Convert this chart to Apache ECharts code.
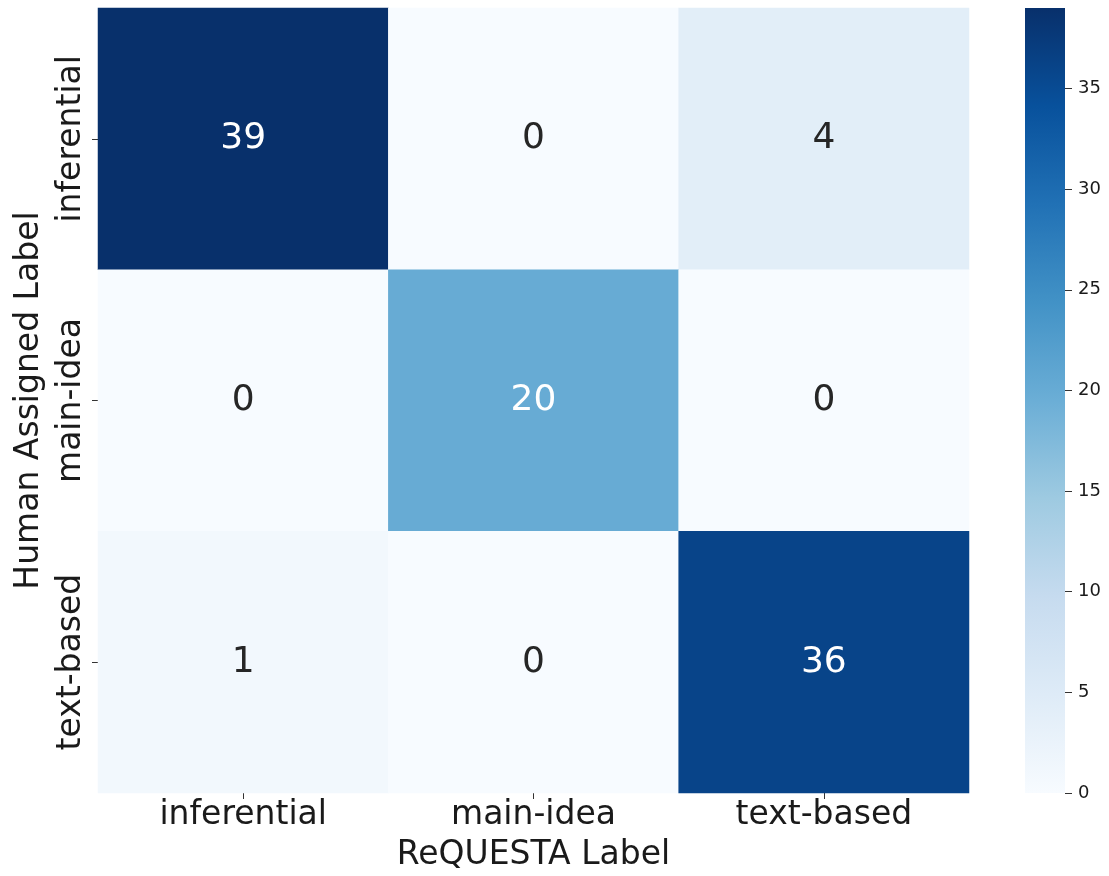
<!DOCTYPE html>
<html><head><meta charset="utf-8">
<script src="https://cdn.jsdelivr.net/npm/echarts@6/dist/echarts.min.js"></script>
<style>html,body{margin:0;padding:0;background:#fff}#c{width:1109px;height:876px}</style>
</head><body><div id="c"></div>
<script>
const xCategories = ['inferential', 'main-idea', 'text-based'];
const yCategories = ['inferential', 'main-idea', 'text-based'];
// rows = human assigned label, columns = ReQUESTA label
const rowInferential = [39, 0, 4];
const rowMainIdea = [0, 20, 0];
const rowTextBased = [1, 0, 36];
const colorbarTicks = [0, 5, 10, 15, 20, 25, 30, 35];
const vMin = 0, vMax = 39;
const blues = ['#f7fbff','#deebf7','#c6dbef','#9ecae1','#6baed6','#4292c6','#2171b5','#08519c','#08306b'];

const rows = [rowInferential, rowMainIdea, rowTextBased];
const data = [];
rows.forEach((r, yi) => r.forEach((v, xi) => {
  data.push({value: [xi, yi, v], label: {color: v > 15 ? '#ffffff' : '#262626'}});
}));

const FONT = '"DejaVu Sans", sans-serif';
const chart = echarts.init(document.getElementById('c'), null, {renderer: 'canvas'});
chart.setOption({
  animation: false,
  backgroundColor: '#ffffff',
  grid: [
    {left: 98, top: 8, width: 871, height: 785, containLabel: false, outerBoundsMode: 'none'},
    {left: 1025, top: 8, width: 40, height: 785, containLabel: false, outerBoundsMode: 'none'}
  ],
  xAxis: [
    {type: 'category', data: xCategories, gridIndex: 0, position: 'bottom',
     axisLine: {show: false}, splitArea: {show: false},
     axisTick: {show: true, alignWithLabel: true, length: 6, lineStyle: {color: '#333'}},
     axisLabel: {fontSize: 33, color: '#1a1a1a', fontFamily: FONT, margin: 6},
     name: 'ReQUESTA Label', nameLocation: 'middle', nameGap: 46,
     nameTextStyle: {fontSize: 33, color: '#1a1a1a', fontFamily: FONT}},
    {type: 'category', data: ['cb'], gridIndex: 1, show: false}
  ],
  yAxis: [
    {type: 'category', data: yCategories, gridIndex: 0, inverse: true,
     axisLine: {show: false},
     axisTick: {show: true, alignWithLabel: true, length: 6, lineStyle: {color: '#333'}},
     axisLabel: {fontSize: 33, color: '#1a1a1a', fontFamily: FONT, rotate: 90, margin: 10},
     name: 'Human Assigned Label', nameLocation: 'middle', nameGap: 52, nameRotate: 90,
     nameTextStyle: {fontSize: 33, color: '#1a1a1a', fontFamily: FONT}},
    {type: 'value', gridIndex: 1, min: vMin, max: vMax, position: 'right',
     axisLine: {show: false}, splitLine: {show: false},
     axisTick: {show: true, length: 7, lineStyle: {color: '#333'}, customValues: colorbarTicks},
     axisLabel: {fontSize: 18, color: '#1a1a1a', fontFamily: FONT, margin: 13,
       customValues: colorbarTicks}}
  ],
  visualMap: {show: false, min: vMin, max: vMax, seriesIndex: 0, inRange: {color: blues}},
  series: [
    {type: 'heatmap', xAxisIndex: 0, yAxisIndex: 0, data: data,
     label: {show: true, fontSize: 36, fontFamily: FONT, formatter: p => String(p.value[2])},
     itemStyle: {borderWidth: 0}},
    {type: 'bar', xAxisIndex: 1, yAxisIndex: 1, data: [vMax], barWidth: '100%', silent: true,
     itemStyle: {color: new echarts.graphic.LinearGradient(0, 1, 0, 0,
       blues.map((c, i) => ({offset: i / (blues.length - 1), color: c})))}}
  ]
});
</script></body></html>
